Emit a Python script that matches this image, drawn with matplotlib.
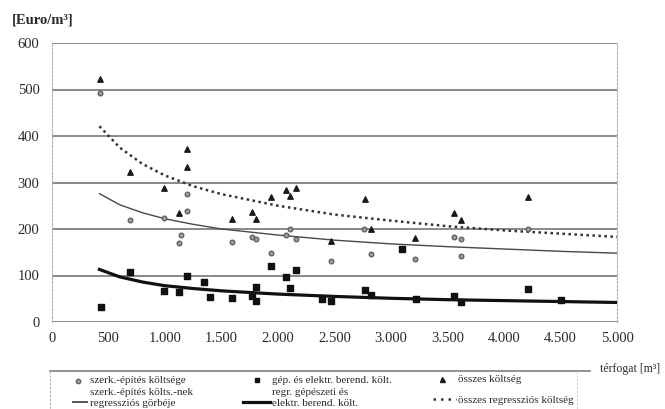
#
#  plot.py
#  Költségek a térfogat függvényében (szerk.-építés, gépészet, összes)
#

import matplotlib
matplotlib.use('Agg')
import matplotlib.pyplot as plt
from matplotlib.lines import Line2D

plt.rcParams['font.family'] = ['Liberation Serif', 'DejaVu Serif']

# ===========
# = Données =
# ===========

# szerk.-építés költsége (körök)
szerk_x = [425, 690, 991, 1124, 1141, 1195, 1195, 1595, 1770, 1805, 1938,
           2070, 2106, 2157, 2469, 2764, 2823, 3212, 3557, 3620, 3620, 4213]
szerk_y = [492, 219, 224, 170, 187, 275, 239, 172, 183, 179, 148,
           187, 200, 179, 131, 200, 146, 135, 183, 179, 142, 200]

# gép. és elektr. berend. költ. (négyzetek)
gep_x = [434, 690, 991, 1124, 1195, 1345, 1398, 1595, 1770, 1805, 1805,
         1938, 2070, 2106, 2157, 2390, 2469, 2770, 2823, 3097, 3220, 3557,
         3620, 4213, 4505]
gep_y = [32, 108, 67, 64, 99, 86, 54, 52, 55, 76, 45,
         120, 97, 73, 112, 49, 45, 69, 57, 157, 50, 55,
         44, 71, 48]

# összes költség (háromszögek)
osszes_x = [425, 690, 991, 1124, 1195, 1195, 1595, 1770, 1805, 1938, 2070,
            2106, 2157, 2469, 2770, 2823, 3212, 3557, 3620, 4213]
osszes_y = [523, 323, 288, 234, 372, 334, 221, 236, 221, 268, 284,
            271, 288, 174, 265, 200, 181, 235, 219, 269]

# Regressziós görbék (leolvasott pontok)
reg_x = [420, 600, 800, 1000, 1250, 1500, 2000, 2500, 3000, 3500, 4000, 4500, 5000]
reg_szerk = [276, 252, 235, 222, 210, 200, 187, 176, 168, 162, 157, 152, 148]
reg_gep = [113, 97, 86, 78, 72, 67, 60, 55, 51, 48, 46, 44, 42]
reg_osszes = [421, 375, 340, 315, 292, 275, 250, 231, 218, 206, 197, 190, 183]

x_ticks = [0, 500, 1000, 1500, 2000, 2500, 3000, 3500, 4000, 4500, 5000]
x_labels = ['0', '500', '1.000', '1.500', '2.000', '2.500', '3.000',
            '3.500', '4.000', '4.500', '5.000']
y_ticks = [0, 100, 200, 300, 400, 500, 600]

GRIS = '#808080'
TEXTE = '#2a2a2a'
POINTILLE = (0, (1, 1.4))

# =============
# = Graphique =
# =============

fig = plt.figure(figsize=(6.65, 4.09), dpi=100)
ax = fig.add_axes([52 / 665, 1 - 322 / 409, 565 / 665, 279 / 409])

# Lignes horizontales de la grille
for y in y_ticks:
    ax.axhline(y, color=GRIS, lw=1.3, zorder=1)

ax.plot(reg_x, reg_szerk, color='#484848', lw=1.0, zorder=3)
ax.plot(reg_x, reg_gep, color='#111111', lw=2.3, zorder=3)
ax.plot(reg_x, reg_osszes, color='#333333', lw=1.8, ls=POINTILLE, zorder=3)

ax.scatter(szerk_x, szerk_y, s=12, marker='o', facecolor='#9a9a9a',
           edgecolor='#555555', linewidths=0.8, zorder=4)
ax.scatter(gep_x, gep_y, s=18, marker='s', color='#111111', zorder=4)
ax.scatter(osszes_x, osszes_y, s=15, marker='^', color='#1a1a1a', zorder=4)

ax.set_xlim(0, 5000)
ax.set_ylim(0, 600)
ax.set_xticks(x_ticks, x_labels)
ax.set_yticks(y_ticks)
ax.tick_params(length=0, labelsize=10.5, labelcolor=TEXTE)
ax.tick_params(axis='x', pad=7)
ax.tick_params(axis='y', pad=9)

for cote in ['top', 'bottom']:
    ax.spines[cote].set_visible(False)
for cote in ['left', 'right']:
    ax.spines[cote].set_color('#b0b0b0')
    ax.spines[cote].set_linestyle((0, (2, 1.5)))
    ax.spines[cote].set_linewidth(0.8)

fig.text(12 / 665, 1 - 20 / 409, '[Euro/m³]', fontsize=10.5, fontweight='bold',
         color=TEXTE, va='center', ha='left')

# =============================
# = Légende (dessinée à main) =
# =============================

def fx(px):
    return px / 665

def fy(py):
    return 1 - py / 409

# Cadre de la légende
fig.add_artist(Line2D([fx(50), fx(590)], [fy(371), fy(371)], color=GRIS, lw=1.2))
fig.add_artist(Line2D([fx(50), fx(50)], [fy(371), fy(409)], color='#b0b0b0',
                      lw=0.8, ls=(0, (2, 1.5))))
fig.add_artist(Line2D([fx(577), fx(577)], [fy(371), fy(409)], color='#d0d0d0',
                      lw=0.8, ls=(0, (2, 1.5))))
fig.text(fx(600), fy(369), 'térfogat [m³]', fontsize=8.5, color=TEXTE,
         va='center', ha='left')

# Symboles
fig.add_artist(Line2D([fx(78)], [fy(381)], marker='o', ms=3.3, mfc='#9a9a9a',
                      mec='#555555', mew=0.8, ls=''))
fig.add_artist(Line2D([fx(73), fx(87)], [fy(402), fy(402)], color='#444444', lw=1.3))
fig.add_artist(Line2D([fx(257)], [fy(380)], marker='s', ms=3.3, color='#111111', ls=''))
fig.add_artist(Line2D([fx(243), fx(270)], [fy(402), fy(402)], color='#111111', lw=2.3))
fig.add_artist(Line2D([fx(442)], [fy(379)], marker='^', ms=3.6, color='#1a1a1a', ls=''))
fig.add_artist(Line2D([fx(433), fx(456)], [fy(399), fy(399)], color='#333333',
                      lw=1.8, ls=(0, (1, 2.0))))

# Textes : une ligne par entrée, placée sur sa ligne de base (px, py)
legende = [
    (90, 383, 'szerk.-építés költsége'),
    (90, 395, 'szerk.-építés költs.-nek'),
    (90, 406, 'regressziós görbéje'),
    (272, 383, 'gép. és elektr. berend. költ.'),
    (272, 395, 'regr. gépészeti és'),
    (272, 406, 'elektr. berend. költ.'),
    (458, 382, 'összes költség'),
    (458, 403, 'összes regressziós költség'),
]
for px, py, texte in legende:
    fig.text(fx(px), fy(py), texte, fontsize=8.0, color=TEXTE,
             va='baseline', ha='left')

fig.savefig('out.png', dpi=100)
